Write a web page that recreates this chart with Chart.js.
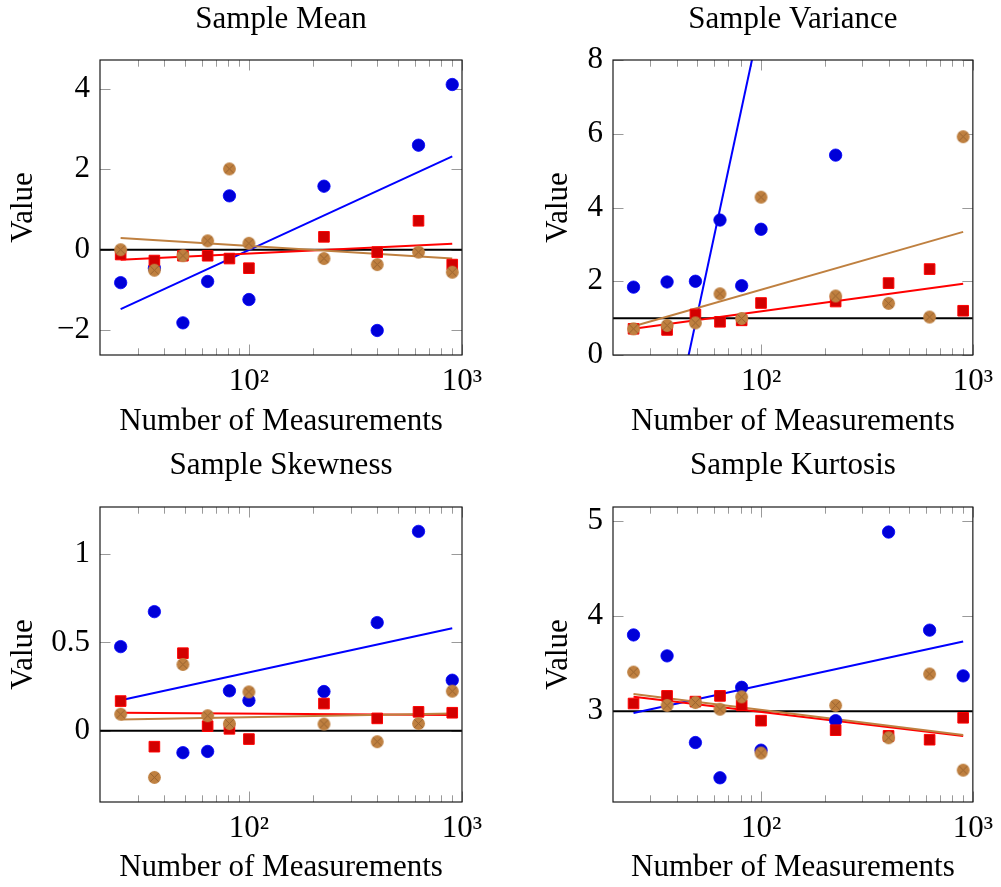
<!DOCTYPE html>
<html>
<head>
<meta charset="utf-8">
<script src="https://cdn.jsdelivr.net/npm/chart.js@4.4.1/dist/chart.umd.min.js"></script>
<style>
html, body { margin: 0; padding: 0; background: #fff; width: 1001px; height: 887px; overflow: hidden; }
canvas { position: absolute; }
</style>
</head>
<body>
<canvas id="cMean" width="500" height="440" style="left:0px;top:0px;width:500px;height:440px"></canvas>
<canvas id="cVar" width="501" height="440" style="left:500px;top:0px;width:501px;height:440px"></canvas>
<canvas id="cSkew" width="500" height="447" style="left:0px;top:440px;width:500px;height:447px"></canvas>
<canvas id="cKurt" width="501" height="447" style="left:500px;top:440px;width:501px;height:447px"></canvas>
<script>
// ---------- data ----------
const nValues = [25, 36, 49, 64, 81, 100, 225, 400, 625, 900];
const xMin = 20;
const xMax = 1000;
const xTickValues = [100, 1000];
const xTickLabels = ['10\u00B2', '10\u00B3'];
const xMinorTicks = [30, 40, 50, 60, 70, 80, 90, 200, 300, 400, 500, 600, 700, 800, 900];

const panelTitles = ['Sample Mean', 'Sample Variance', 'Sample Skewness', 'Sample Kurtosis'];
const xAxisTitle = 'Number of Measurements';
const yAxisTitle = 'Value';

// Sample Mean
const meanBlue  = [-0.82, -0.46, -1.82, -0.79, 1.34, -1.24, 1.58, -2.01, 2.60, 4.11];
const meanRed   = [-0.12, -0.27, -0.15, -0.15, -0.22, -0.46, 0.32, -0.06, 0.72, -0.37];
const meanBrown = [0.00, -0.51, -0.15, 0.22, 2.01, 0.16, -0.22, -0.37, -0.06, -0.56];
const meanFitBlue  = [-1.48, 2.32];
const meanFitRed   = [-0.25, 0.15];
const meanFitBrown = [0.29, -0.22];
const meanRef = 0;
const meanRange = [-2.62, 4.72];
const meanTicks = [-2, 0, 2, 4];

// Sample Variance (last three blue values lie above the plotted range)
const varBlue  = [1.84, 1.98, 2.00, 3.66, 1.88, 3.41, 5.42, 20, 24, 56];
const varRed   = [0.71, 0.68, 1.10, 0.90, 0.94, 1.41, 1.45, 1.95, 2.33, 1.20];
const varBrown = [0.71, 0.80, 0.87, 1.66, 0.99, 4.28, 1.60, 1.40, 1.03, 5.92];
const varFitBlue  = [-6.97, 34.7];
const varFitRed   = [0.71, 1.93];
const varFitBrown = [0.78, 3.34];
const varRef = 1;
const varRange = [0, 8];
const varTicks = [0, 2, 4, 6, 8];

// Sample Skewness
const skewBlue  = [0.476, 0.674, -0.124, -0.117, 0.226, 0.171, 0.222, 0.612, 1.128, 0.286];
const skewRed   = [0.168, -0.090, 0.439, 0.026, 0.011, -0.047, 0.154, 0.070, 0.107, 0.102];
const skewBrown = [0.094, -0.264, 0.375, 0.085, 0.041, 0.220, 0.038, -0.062, 0.041, 0.224];
const skewFitBlue  = [0.173, 0.580];
const skewFitRed   = [0.102, 0.089];
const skewFitBrown = [0.064, 0.098];
const skewRef = 0;
const skewRange = [-0.403, 1.266];
const skewTicks = [0, 0.5, 1];

// Sample Kurtosis
const kurtBlue  = [3.80, 3.58, 2.67, 2.30, 3.25, 2.59, 2.90, 4.88, 3.85, 3.37];
const kurtRed   = [3.08, 3.16, 3.10, 3.16, 3.06, 2.90, 2.80, 2.74, 2.70, 2.93];
const kurtBrown = [3.41, 3.06, 3.09, 3.02, 3.15, 2.56, 3.06, 2.72, 3.39, 2.38];
const kurtFitBlue  = [2.98, 3.73];
const kurtFitRed   = [3.15, 2.74];
const kurtFitBrown = [3.18, 2.75];
const kurtRef = 3;
const kurtRange = [2.046, 5.143];
const kurtTicks = [3, 4, 5];

// ---------- styles ----------
const FONT = '"Liberation Serif", "DejaVu Serif", serif';
const FSIZE = 31;
const TICK_COLOR = '#9a9a9a';

function brownMarker() {
  const c = document.createElement('canvas');
  c.width = 15; c.height = 15;
  const g = c.getContext('2d');
  const r = 6.4, cx = 7.5, cy = 7.5;
  g.beginPath(); g.arc(cx, cy, r, 0, Math.PI * 2);
  g.fillStyle = '#bf8040'; g.fill();
  g.strokeStyle = '#94602e'; g.lineWidth = 0.9;
  const d = r * 0.7071;
  g.beginPath();
  g.moveTo(cx - d, cy - d); g.lineTo(cx + d, cy + d);
  g.moveTo(cx + d, cy - d); g.lineTo(cx - d, cy + d);
  g.stroke();
  return c;
}
const BROWN_MARK = brownMarker();

function fmtNum(v) {
  return v < 0 ? '\u2212' + String(Math.abs(v)) : String(v);
}

const framePlugin = {
  id: 'frame',
  beforeDatasetsDraw(chart) {
    const { ctx, chartArea: a } = chart;
    const xs = chart.scales.x, ys = chart.scales.y;
    ctx.save();
    ctx.strokeStyle = TICK_COLOR;
    ctx.lineWidth = 1;
    ctx.beginPath();
    const major = 10.5, minor = 6.7;
    xMinorTicks.forEach(v => {
      const px = Math.round(xs.getPixelForValue(v)) + 0.5;
      ctx.moveTo(px, a.bottom); ctx.lineTo(px, a.bottom - minor);
      ctx.moveTo(px, a.top); ctx.lineTo(px, a.top + minor);
    });
    xTickValues.forEach(v => {
      const px = Math.round(xs.getPixelForValue(v)) + 0.5;
      ctx.moveTo(px, a.bottom); ctx.lineTo(px, a.bottom - major);
      ctx.moveTo(px, a.top); ctx.lineTo(px, a.top + major);
    });
    ys.ticks.forEach(t => {
      const py = Math.round(ys.getPixelForValue(t.value)) + 0.5;
      ctx.moveTo(a.left, py); ctx.lineTo(a.left + major, py);
      ctx.moveTo(a.right, py); ctx.lineTo(a.right - major, py);
    });
    ctx.stroke();
    ctx.restore();
  },
  afterDatasetsDraw(chart) {
    const { ctx, chartArea: a } = chart;
    ctx.save();
    ctx.strokeStyle = '#1a1a1a';
    ctx.lineWidth = 1.2;
    ctx.strokeRect(a.left, a.top, a.right - a.left, a.bottom - a.top);
    ctx.restore();
  }
};

function pointsOf(vals) {
  return nValues.map((n, i) => ({ x: n, y: vals[i] }));
}
function fitOf(fit) {
  return [{ x: nValues[0], y: fit[0] }, { x: nValues[nValues.length - 1], y: fit[1] }];
}

function makeChart(id, p) {
  const datasets = [
    { data: [{ x: xMin, y: p.ref }, { x: xMax, y: p.ref }], showLine: true, pointRadius: 0,
      borderColor: '#000000', borderWidth: 2, order: 7 },
    { data: fitOf(p.fitBlue), showLine: true, pointRadius: 0, borderColor: '#0000ff', borderWidth: 2, order: 6 },
    { data: fitOf(p.fitRed), showLine: true, pointRadius: 0, borderColor: '#ff0000', borderWidth: 2, order: 5 },
    { data: fitOf(p.fitBrown), showLine: true, pointRadius: 0, borderColor: '#bf8040', borderWidth: 2, order: 4 },
    { data: pointsOf(p.blue), pointStyle: 'circle', pointRadius: 6.2, pointBorderWidth: 0.8,
      pointBackgroundColor: '#0000d8', pointBorderColor: '#0000ff', order: 3 },
    { data: pointsOf(p.red), pointStyle: 'rect', pointRadius: 7.5, pointBorderWidth: 1,
      pointBackgroundColor: '#d20000', pointBorderColor: '#ff0000', order: 2 },
    { data: pointsOf(p.brown), pointStyle: BROWN_MARK, pointRadius: 6, order: 1 }
  ];
  return new Chart(document.getElementById(id), {
    type: 'scatter',
    data: { datasets },
    plugins: [framePlugin],
    options: {
      responsive: false,
      animation: false,
      devicePixelRatio: 1,
      layout: { padding: { left: 0, right: p.padRight, top: 0, bottom: 0 } },
      plugins: {
        legend: { display: false },
        tooltip: { enabled: false },
        title: {
          display: true, text: p.title, fullSize: false, color: '#000',
          font: { family: FONT, size: FSIZE, weight: 'normal' },
          padding: { top: p.titleTop, bottom: p.titleBottom }
        }
      },
      scales: {
        x: {
          type: 'logarithmic', min: xMin, max: xMax,
          grid: { display: false, drawTicks: false },
          border: { display: false },
          afterBuildTicks: s => { s.ticks = xTickValues.map(v => ({ value: v })); },
          afterFit: s => { s.height = p.xAxisHeight; },
          ticks: {
            color: '#000', padding: 8, maxRotation: 0, autoSkip: false,
            font: { family: FONT, size: FSIZE },
            callback: (v, i) => xTickLabels[i]
          },
          title: {
            display: true, text: xAxisTitle, color: '#000',
            font: { family: FONT, size: FSIZE },
            padding: { top: 0, bottom: p.xTitleBottom }
          }
        },
        y: {
          type: 'linear', min: p.range[0], max: p.range[1],
          grid: { display: false, drawTicks: false },
          border: { display: false },
          afterBuildTicks: s => { s.ticks = p.ticks.map(v => ({ value: v })); },
          afterFit: s => { s.width = p.yAxisWidth; },
          ticks: {
            color: '#000', padding: 10,
            font: { family: FONT, size: FSIZE },
            callback: v => fmtNum(v)
          },
          title: {
            display: true, text: yAxisTitle, color: '#000',
            font: { family: FONT, size: FSIZE },
            padding: { top: p.yTitleTop, bottom: 0 }
          }
        }
      }
    }
  });
}

makeChart('cMean', {
  title: panelTitles[0], blue: meanBlue, red: meanRed, brown: meanBrown,
  fitBlue: meanFitBlue, fitRed: meanFitRed, fitBrown: meanFitBrown, ref: meanRef,
  range: meanRange, ticks: meanTicks,
  padRight: 38, titleTop: 1, titleBottom: 21.8, xAxisHeight: 85, yAxisWidth: 100,
  xTitleBottom: 0, yTitleTop: 4.9
});
makeChart('cVar', {
  title: panelTitles[1], blue: varBlue, red: varRed, brown: varBrown,
  fitBlue: varFitBlue, fitRed: varFitRed, fitBrown: varFitBrown, ref: varRef,
  range: varRange, ticks: varTicks,
  padRight: 26, titleTop: 1, titleBottom: 21.8, xAxisHeight: 85, yAxisWidth: 113,
  xTitleBottom: 0, yTitleTop: 40.4
});
makeChart('cSkew', {
  title: panelTitles[2], blue: skewBlue, red: skewRed, brown: skewBrown,
  fitBlue: skewFitBlue, fitRed: skewFitRed, fitBrown: skewFitBrown, ref: skewRef,
  range: skewRange, ticks: skewTicks,
  padRight: 38, titleTop: 7, titleBottom: 22.8, xAxisHeight: 85, yAxisWidth: 100,
  xTitleBottom: 0.9, yTitleTop: 4.9
});
makeChart('cKurt', {
  title: panelTitles[3], blue: kurtBlue, red: kurtRed, brown: kurtBrown,
  fitBlue: kurtFitBlue, fitRed: kurtFitRed, fitBrown: kurtFitBrown, ref: kurtRef,
  range: kurtRange, ticks: kurtTicks,
  padRight: 26, titleTop: 7, titleBottom: 22.8, xAxisHeight: 85, yAxisWidth: 113,
  xTitleBottom: 0.9, yTitleTop: 40.4
});
</script>
</body>
</html>
